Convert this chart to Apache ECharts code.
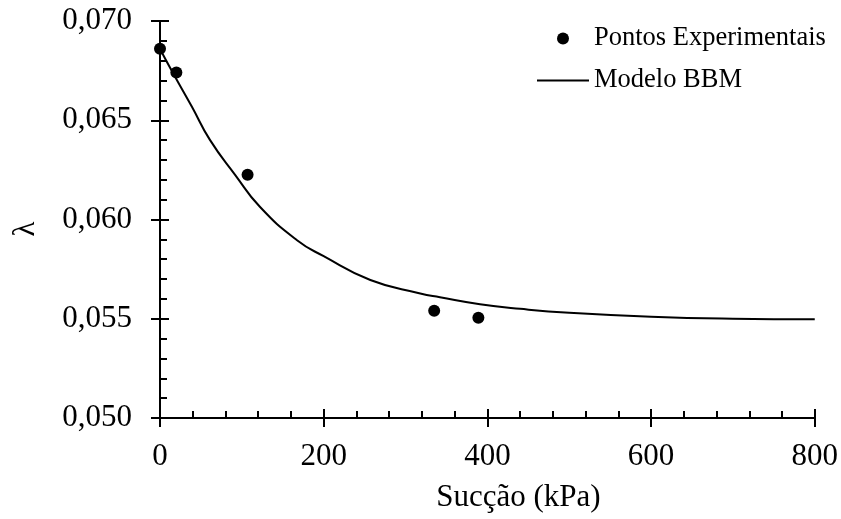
<!DOCTYPE html>
<html>
<head>
<meta charset="utf-8">
<script src="https://cdn.jsdelivr.net/npm/echarts@6/dist/echarts.min.js"></script>
<style>html,body{margin:0;padding:0;background:#fff}#c{width:841px;height:519px}</style>
</head>
<body>
<div id="c"></div>
<script>
// Experimental points
const expSuction = [0, 20, 107, 335, 389];
const expLambda = [0.0686, 0.0674, 0.06226, 0.0554, 0.05505];
// BBM model curve
const modelSuction = [0, 16, 39, 61, 92, 122, 167, 200, 257, 318, 342, 391, 440, 500, 600, 700, 800];
const modelLambda = [0.06859, 0.06737, 0.06568, 0.06401, 0.06224, 0.06064, 0.05897, 0.05815, 0.05695, 0.05627, 0.05608, 0.05573, 0.05550, 0.05530, 0.05510, 0.05500, 0.05497];
// Axis ticks
const xTicks = [0, 200, 400, 600, 800];
const yTicks = [0.050, 0.055, 0.060, 0.065, 0.070];
const seriesNames = ['Pontos Experimentais', 'Modelo BBM'];
const xTitle = 'Sucção (kPa)';
const yTitle = 'λ';

const FONT = '"Liberation Serif", "Times New Roman", serif';
const chart = echarts.init(document.getElementById('c'), null, {renderer: 'canvas'});
const axisLine = {show: true, onZero: false, lineStyle: {color: '#000', width: 2}};
const fmtY = v => v.toFixed(3).replace('.', ',');

const xBase = {
  type: 'value', position: 'bottom', min: xTicks[0], max: xTicks[xTicks.length - 1],
  interval: xTicks[1] - xTicks[0], splitLine: {show: false}, axisLine: axisLine
};
const yBase = {
  type: 'value', position: 'left', min: yTicks[0], max: yTicks[yTicks.length - 1],
  interval: yTicks[1] - yTicks[0], splitLine: {show: false}, axisLine: axisLine
};

chart.setOption({
  animation: false,
  backgroundColor: '#fff',
  textStyle: {fontFamily: FONT, color: '#000'},
  grid: {left: 160, right: 26, top: 21, bottom: 101, containLabel: false},
  legend: {
    orient: 'vertical', left: 536, top: 25, padding: 0, itemGap: 15,
    itemWidth: 52, itemHeight: 12,
    textStyle: {fontFamily: FONT, fontSize: 26.5, color: '#000'},
    data: [
      {name: seriesNames[0], itemStyle: {color: '#000', opacity: 1}},
      {name: seriesNames[1], itemStyle: {opacity: 0, color: 'transparent', borderWidth: 0}, lineStyle: {color: '#000', width: 2, opacity: 1}}
    ]
  },
  xAxis: [
    Object.assign({}, xBase, {
      axisTick: {show: true, inside: false, length: 9, lineStyle: {color: '#000', width: 2}},
      axisLabel: {show: true, margin: 23, fontFamily: FONT, fontSize: 31, color: '#000'},
      name: xTitle, nameLocation: 'middle', nameGap: 64,
      nameTextStyle: {fontFamily: FONT, fontSize: 31, color: '#000', padding: [0, 0, 0, 62]}
    }),
    Object.assign({}, xBase, {
      axisTick: {show: true, inside: true, length: 9, lineStyle: {color: '#000', width: 2}},
      minorTick: {show: true, splitNumber: 5, length: 7, lineStyle: {color: '#000', width: 2}},
      axisLabel: {show: false}
    })
  ],
  yAxis: [
    Object.assign({}, yBase, {
      axisTick: {show: true, inside: false, length: 9, lineStyle: {color: '#000', width: 2}},
      axisLabel: {show: true, margin: 28, fontFamily: FONT, fontSize: 31, color: '#000', formatter: fmtY},
      name: yTitle, nameLocation: 'middle', nameGap: 119,
      nameTextStyle: {fontFamily: FONT, fontSize: 31, color: '#000', padding: [0, 19, 0, 0]}
    }),
    Object.assign({}, yBase, {
      axisTick: {show: true, inside: true, length: 9, lineStyle: {color: '#000', width: 2}},
      minorTick: {show: true, splitNumber: 5, length: 7, lineStyle: {color: '#000', width: 2}},
      axisLabel: {show: false}
    })
  ],
  series: [
    {
      name: seriesNames[0], type: 'scatter', xAxisIndex: 0, yAxisIndex: 0,
      symbol: 'circle', symbolSize: 12, itemStyle: {color: '#000', opacity: 1}, z: 3,
      data: expSuction.map((s, i) => [s, expLambda[i]])
    },
    {
      name: seriesNames[1], type: 'line', xAxisIndex: 0, yAxisIndex: 0,
      symbol: 'none', smooth: 0.5, lineStyle: {color: '#000', width: 2}, itemStyle: {color: '#000'}, z: 2,
      data: modelSuction.map((s, i) => [s, modelLambda[i]])
    }
  ]
});
</script>
</body>
</html>
